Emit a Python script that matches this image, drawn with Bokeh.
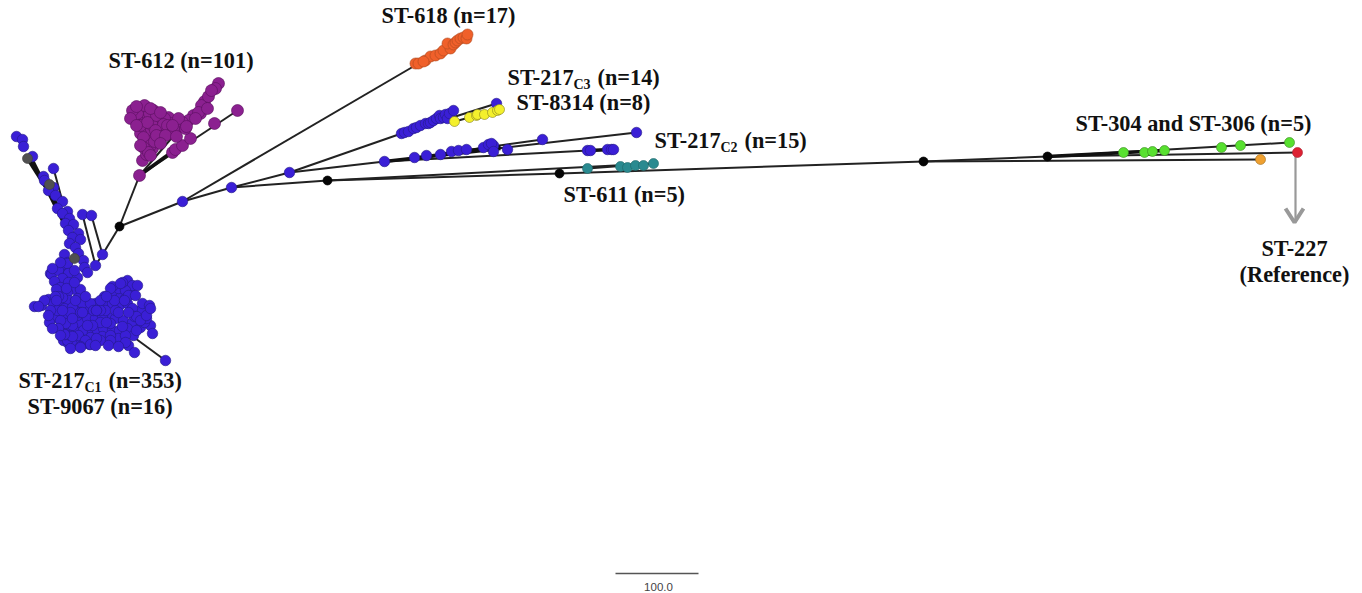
from bokeh.plotting import figure
from bokeh.embed import file_html
from bokeh.resources import INLINE
from bokeh.core.properties import value

# Node positions (x right, y down)
blue_x = [16,22,23,32,43,44,53,53,48,55,62,57,67,62,69,65,73,68,78,72,80,69,75,64,78,83,67,84,87,82,91,102,95,60,50,68,
 51,58,67,68,77,62,54,68,60,56,75,67,80,48,53,60,68,77,34,41,64,75,87,95,105,112,119,127,112,120,131,118,127,132,137,125,140,142,149,132,
 108,115,123,132,140,150,152,55,49,61,67,75,80,87,95,102,70,63,77,83,92,97,103,112,119,127,133,118,125,63,68,73,80,90,102,89,128,134,165,
 62,72,82,90,100,92,72,57,67,110,87,93,105,78,85,65,125,115,75,70,80,60,70,100,
 58,66,74,62,72,82,55,65,85,96,106,118,128,112,122,134,144,122,110,100,90,80,72,64,58,96,104,114,124,136,146,
 100,110,120,135,128,140,146,136,150,106,96,44,38,50,56,48,52,60,70,80,95,110,125,108,118,74,60,52,
 182,231,289,
 401,404,408,413,416,420,425,428,430,433,436,439,440,443,445,447,449,453,496,
 384,414,426,440,451,458,466,483,488,493,491,493,507,542,636,587,590,607,611,613]
blue_y = [136,139,146,156,176,180,168,187,190,195,201,208,211,213,218,223,224,230,233,237,239,243,247,254,253,260,262,267,272,214,215,254,265,269,273,272,
 274,270,263,273,277,278,281,282,287,289,289,292,289,299,303,305,300,298,306,305,308,310,309,303,303,303,305,303,295,297,293,288,280,285,285,290,310,303,305,308,
 317,318,320,322,327,325,333,317,322,328,332,328,322,318,318,315,318,315,315,330,332,330,328,330,330,328,335,338,335,340,343,342,338,337,336,344,345,352,360,
 297,307,303,303,322,325,325,310,340,323,325,310,310,335,340,323,298,310,300,312,312,320,335,310,
 296,288,282,310,318,312,296,334,296,310,322,312,295,286,282,316,322,326,335,340,344,346,336,334,328,338,296,300,300,316,318,
 300,288,283,295,312,320,315,330,308,296,310,300,306,310,300,315,328,335,348,347,345,340,342,345,346,270,262,268,
 201,187,172,
 133,132,131,128,127,125,123,123,122,120,118,115,118,117,114,118,113,110,103,
 161,157,155,154,151,150,149,147,144,145,143,151,149,139,132,150,150,149,149,149]

grey_x = [27,49,74]
grey_y = [158,184,258]

purple_x = [218,215,204,201,200,193,188,182,175,168,170,169,142,139,172,175,182,190,214,237,
 135,145,153,140,148,155,133,138,147,157,143,150,161,164,144,152,158,145,152,140,146,152,145,149,156,163,178,185,198,207,
 140,147,155,143,150,137,144,160,167,173,143,148,154,
 132,136,150,160,130,136,156,165,178,172,160,150,140,176,186,195,208,211]
purple_y = [83,88,101,105,113,115,120,122,130,117,123,133,160,175,152,149,145,138,123,110,
 114,107,110,119,118,120,118,126,127,125,132,132,128,118,140,140,135,147,148,133,154,125,112,113,115,124,125,128,112,108,
 125,122,130,137,145,113,105,136,125,128,147,152,141,
 110,106,108,112,118,125,135,135,118,125,143,155,145,136,126,118,96,90]

orange_x = [415,418,425,430,435,440,443,450,447,453,455,457,460,463,466,467,423]
orange_y = [63,63,60,56,55,53,50,48,43,44,42,40,38,37,38,34,61]

yellow_x = [454,469,476,477,484,492,497,499]
yellow_y = [121,117,115,114,114,112,110,109]

teal_x = [587,620,627,635,643,653]
teal_y = [168,166,167,165,165,163]

green_x = [1123,1144,1152,1164,1221,1240,1289]
green_y = [152,152,151,150,147,145,142]

red_x = [1297]
red_y = [152]
amber_x = [1260]
amber_y = [159]

black_x = [119,327,559,923,1047]
black_y = [226,180,173,161,156]

# Tree branches
edge_x0 = [82,91,95,102,119,119,182,182,231,231,289,289,384,384,327,327,559,923,923,1047,1047,135,53,139,139,
 454,401,414,587,620]
edge_y0 = [214,215,265,254,226,226,201,201,187,187,172,172,161,161,180,180,173,161,161,156,156,338,168,175,175,
 121,133,157,168,166]
edge_x1 = [95,102,102,119,139,182,418,231,289,327,401,384,636,607,559,653,923,1047,1260,1297,1289,165,62,218,237,
 499,496,542,653,653]
edge_y1 = [265,254,254,226,175,201,63,187,172,180,133,161,132,149,173,163,161,156,159,152,142,360,201,83,110,
 109,103,139,163,163]

thick_x0 = [27,32,139,196,384,440,589,1047]
thick_y0 = [158,160,175,112,161,154,150,156]
thick_x1 = [57,68,190,218,500,500,611,1164]
thick_y1 = [205,232,138,83,148,146,149,150]

# Arrow pointing at the reference node, and scale bar
arrow_x = [1295,1295]
arrow_y = [153,222]
head_x = [1285,1294,1303]
head_y = [208,222,208]
scale_x = [615,698]
scale_y = [573,573]

# Labels
label_text = ["ST-618 (n=17)","ST-612 (n=101)","ST-217","(n=14)","ST-8314 (n=8)","ST-217","(n=15)","ST-611 (n=5)",
              "ST-304 and ST-306 (n=5)","ST-217","(n=353)","ST-9067 (n=16)"]
label_x = [381,108,507,597,516,654,744,563,1075,18,108,27]
label_y = [15,60,77,77,102,140,140,194,123,380,380,406]
sub_text = ["C3","C2","C1"]
sub_x = [573,720,84]
sub_y = [84,147,387]
center_text = ["ST-227","(Reference)"]
center_x = [1294,1294]
center_y = [248,274]
scale_label = ["100.0"]
scale_label_x = [658]
scale_label_y = [586]

p = figure(width=1362, height=593, x_range=(0,1362), y_range=(593,0),
           output_backend="svg", toolbar_location=None, min_border=0,
           x_axis_location=None, y_axis_location=None)
p.outline_line_color = None
p.grid.visible = False
p.background_fill_color = "white"

p.segment(edge_x0, edge_y0, edge_x1, edge_y1, line_color="#222222", line_width=2)
p.segment(thick_x0, thick_y0, thick_x1, thick_y1, line_color="#111111", line_width=3.5)
p.line(arrow_x, arrow_y, line_color="#999999", line_width=2.2)
p.line(head_x, head_y, line_color="#999999", line_width=4)
p.line(scale_x, scale_y, line_color="#555555", line_width=1.4)

def nodes(xs, ys, color, edge, size):
    p.scatter(xs, ys, size=size, fill_color=color, line_color=edge, line_width=0.8, line_alpha=0.8)

nodes(black_x, black_y, "#050505", "#000000", 9)
nodes(purple_x, purple_y, "#8B2090", "#5c1060", 12)
nodes(blue_x, blue_y, "#3A1FD6", "#261a8c", 10.5)
nodes(grey_x, grey_y, "#505050", "#404040", 10)
nodes(orange_x, orange_y, "#F0602A", "#b04a20", 11)
nodes(yellow_x, yellow_y, "#F4F02C", "#8a8820", 10)
nodes(teal_x, teal_y, "#2A8A90", "#1f6a6a", 10)
nodes(green_x, green_y, "#58E030", "#3a8a20", 10)
nodes(red_x, red_y, "#DD2233", "#aa2030", 10)
nodes(amber_x, amber_y, "#EFA030", "#a07020", 10)

serif = value("Liberation Serif")
p.text(label_x, label_y, text=label_text, text_font=serif, text_font_style="bold",
       text_font_size="22.3px", text_color="#111111", text_align="left", text_baseline="middle")
p.text(sub_x, sub_y, text=sub_text, text_font=serif, text_font_style="bold",
       text_font_size="14px", text_color="#111111", text_align="left", text_baseline="middle")
p.text(center_x, center_y, text=center_text, text_font=serif, text_font_style="bold",
       text_font_size="22.3px", text_color="#111111", text_align="center", text_baseline="middle")
p.text(scale_label_x, scale_label_y, text=scale_label, text_font=value("Liberation Sans"),
       text_font_size="11.5px", text_color="#444444", text_align="center", text_baseline="middle")

open("out.html", "w").write(file_html(p, INLINE))
